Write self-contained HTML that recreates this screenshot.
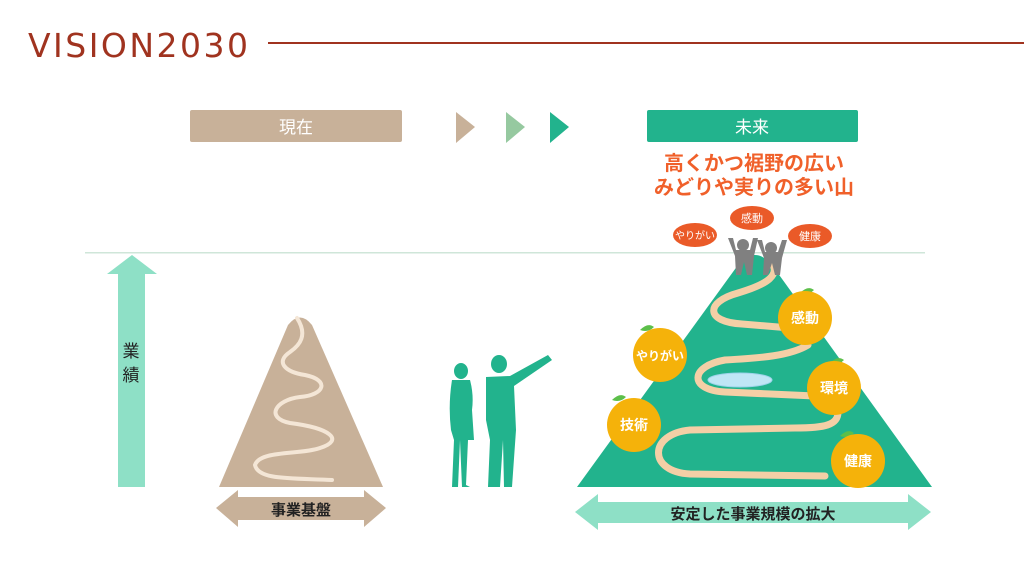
<!DOCTYPE html>
<html><head><meta charset="utf-8"><style>
body{margin:0;width:1024px;height:576px;background:#fff;overflow:hidden}
svg text{font-family:"Liberation Sans","Noto Sans CJK JP",sans-serif}
</style></head><body>
<svg width="1024" height="576" viewBox="0 0 1024 576">
<text x="28" y="57" font-size="33" fill="#a0331f" style="font-family:'DejaVu Sans',sans-serif" textLength="220">VISION2030</text>
<rect x="268" y="42" width="756" height="2" fill="#a0331f"/>
<rect x="190" y="110" width="212" height="32" rx="2" fill="#c8b199"/>
<text x="296" y="133" font-size="17" fill="#fff" text-anchor="middle">現在</text>
<rect x="647" y="110" width="211" height="32" rx="2" fill="#22b38d"/>
<text x="752" y="133" font-size="17" fill="#fff" text-anchor="middle">未来</text>
<polygon points="456,112 475,127 456,143" fill="#c8b199"/>
<polygon points="506,112 525,127 506,143" fill="#96c9a0"/>
<polygon points="550,112 569,127 550,143" fill="#22b38d"/>
<text x="754" y="170" font-size="20" font-weight="bold" fill="#f0602a" text-anchor="middle">高くかつ裾野の広い</text>
<text x="754" y="194" font-size="20" font-weight="bold" fill="#f0602a" text-anchor="middle">みどりや実りの多い山</text>
<rect x="85" y="252" width="840" height="1.5" fill="#cfe6d9"/>
<polygon points="132,255 157,274 145,274 145,487 118,487 118,274 107,274" fill="#8ee0c6"/>
<text x="131" y="357" font-size="17" fill="#222" text-anchor="middle">業</text>
<text x="131" y="381" font-size="17" fill="#222" text-anchor="middle">績</text>
<path d="M219,487 L288,325 Q300,310 312,325 L383,487 Z" fill="#c8b199"/>
<path d="M297,318 C308,335 300,345 290,352 C275,362 285,372 305,375 C330,380 325,395 300,397 C275,400 265,418 290,423 C330,428 345,440 320,448 C300,455 260,450 255,465 C258,480 290,478 332,480" fill="none" stroke="#f4e6d6" stroke-width="4" stroke-linecap="round"/>
<polygon points="216,508 238,490 238,497 364,497 364,490 386,508 364,527 364,520 238,520 238,527" fill="#c8b199"/>
<text x="301" y="515" font-size="15" font-weight="bold" fill="#222" text-anchor="middle">事業基盤</text>
<g fill="#22b38d">
<ellipse cx="461" cy="371" rx="7" ry="8"/>
<path d="M452,380 L470,380 Q474,395 472,410 L474,440 L468,440 L466,485 L470,487 L462,487 L460,440 L458,487 L452,487 L454,440 L451,430 Q448,405 452,380Z"/>
<ellipse cx="499" cy="364" rx="8" ry="9"/>
<path d="M486,377 L510,376 L548,355 L552,360 L514,386 L516,430 L512,487 L520,487 L504,487 L503,440 L500,487 L488,487 L490,440 L486,420 Z"/>
</g>
<path d="M577,487 L738,265 Q755,245 772,265 L932,487 Z" fill="#22b38d"/>
<path d="M768,258 C785,275 765,285 738,293 C705,302 705,322 742,324 L790,328 M808,345 C790,356 760,358 725,360 C690,366 688,390 725,392 L815,396 M838,412 C838,425 825,428 795,428 L690,430 C648,434 648,472 690,474 L825,476" fill="none" stroke="#f4cfa6" stroke-width="7" stroke-linecap="round"/>
<ellipse cx="740" cy="380" rx="32" ry="7" fill="#bfe6f5" stroke="#9dd3ea"/>
<g fill="#808080">
<ellipse cx="743" cy="245" rx="6" ry="6"/><path d="M728,238 L733,238 L736,250 L750,250 L753,238 L758,238 L754,256 L752,275 L747,275 L744,262 L741,275 L736,275 L735,256Z"/>
<ellipse cx="771" cy="248" rx="6" ry="6"/><path d="M757,240 L762,240 L765,252 L778,252 L782,240 L787,240 L782,258 L780,275 L775,275 L772,263 L768,275 L763,275 L764,258Z"/>
</g>
<g font-size="11" fill="#fff" text-anchor="middle">
<ellipse cx="695" cy="235" rx="22" ry="12" fill="#ea5a28"/><text x="695" y="239" font-size="10">やりがい</text>
<ellipse cx="752" cy="218" rx="22" ry="12" fill="#ea5a28"/><text x="752" y="222">感動</text>
<ellipse cx="810" cy="236" rx="22" ry="12" fill="#ea5a28"/><text x="810" y="240">健康</text>
</g>
<g font-size="14" font-weight="bold" fill="#fff" text-anchor="middle">
<g><path d="M800,293 q8,-8 14,-3 q-6,6 -14,3z" fill="#5cbf4a"/><circle cx="805" cy="318" r="27" fill="#f5b20a"/><text x="805" y="323">感動</text></g>
<g><path d="M640,330 q8,-8 14,-3 q-6,6 -14,3z" fill="#5cbf4a"/><circle cx="660" cy="355" r="27" fill="#f5b20a"/><text x="660" y="360" font-size="12">やりがい</text></g>
<g><path d="M830,363 q8,-8 14,-3 q-6,6 -14,3z" fill="#5cbf4a"/><circle cx="834" cy="388" r="27" fill="#f5b20a"/><text x="834" y="393">環境</text></g>
<g><path d="M612,400 q8,-8 14,-3 q-6,6 -14,3z" fill="#5cbf4a"/><circle cx="634" cy="425" r="27" fill="#f5b20a"/><text x="634" y="430">技術</text></g>
<g><path d="M840,436 q8,-8 14,-3 q-6,6 -14,3z" fill="#5cbf4a"/><circle cx="858" cy="461" r="27" fill="#f5b20a"/><text x="858" y="466">健康</text></g>
</g>
<polygon points="575,512 598,494 598,502 908,502 908,494 931,512 908,530 908,523 598,523 598,530" fill="#8ee0c6"/>
<text x="753" y="519" font-size="15" font-weight="bold" fill="#222" text-anchor="middle">安定した事業規模の拡大</text>
</svg>
</body></html>
